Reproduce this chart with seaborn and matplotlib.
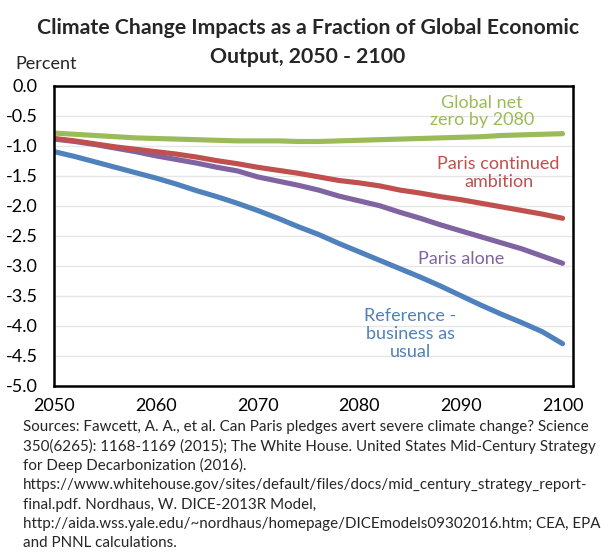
import numpy as np
import pandas as pd
import seaborn as sns
import matplotlib.pyplot as plt

# Data (percent of global output)
years = [2050, 2052, 2054, 2056, 2058, 2060, 2062, 2064, 2066, 2068, 2070, 2072, 2074,
         2076, 2078, 2080, 2082, 2084, 2086, 2088, 2090, 2092, 2094, 2096, 2098, 2100]
reference = [-1.10, -1.18, -1.27, -1.36, -1.45, -1.54, -1.64, -1.75, -1.85, -1.96, -2.08, -2.21, -2.35,
             -2.48, -2.63, -2.77, -2.91, -3.05, -3.19, -3.34, -3.50, -3.66, -3.81, -3.95, -4.10, -4.30]
paris_alone = [-0.89, -0.93, -0.98, -1.04, -1.10, -1.17, -1.23, -1.29, -1.36, -1.42, -1.52, -1.59, -1.66,
               -1.74, -1.84, -1.92, -2.00, -2.11, -2.21, -2.32, -2.42, -2.52, -2.62, -2.72, -2.84, -2.96]
paris_continued = [-0.88, -0.92, -0.97, -1.02, -1.06, -1.10, -1.14, -1.19, -1.25, -1.30, -1.36, -1.41, -1.46,
                   -1.52, -1.58, -1.62, -1.67, -1.74, -1.79, -1.85, -1.90, -1.96, -2.02, -2.08, -2.14, -2.21]
net_zero = [-0.79, -0.81, -0.83, -0.85, -0.87, -0.88, -0.89, -0.90, -0.91, -0.92, -0.92, -0.92, -0.93,
            -0.93, -0.92, -0.91, -0.90, -0.89, -0.88, -0.87, -0.86, -0.85, -0.83, -0.82, -0.81, -0.80]

series_names = ["Reference - business as usual", "Paris alone", "Paris continued ambition",
                "Global net zero by 2080"]
colors = ["#4F81BD", "#8064A2", "#C0504D", "#9BBB59"]

df = pd.DataFrame({
    "year": years * 4,
    "value": reference + paris_alone + paris_continued + net_zero,
    "scenario": np.repeat(series_names, len(years)),
})

sns.set_style("white")
plt.rcParams['font.family'] = ['Lato', 'DejaVu Sans']

fig = plt.figure(figsize=(6.01, 5.56), dpi=100)
ax = fig.add_axes([0.0904, 0.3063, 0.8626, 0.5396])

sns.lineplot(data=df, x="year", y="value", hue="scenario", hue_order=series_names,
             palette=colors, linewidth=3.7, legend=False, ax=ax,
             solid_capstyle="round")

ax.set_xlim(2050, 2101)
ax.set_ylim(-5, 0)
ax.set_xticks([2050, 2060, 2070, 2080, 2090, 2100])
ax.set_yticks(np.arange(-5, 0.01, 0.5))
ax.set_yticklabels([f"{v:.1f}" for v in np.arange(-5, 0.01, 0.5)])
ax.yaxis.grid(True, color="#E6E6E6", linewidth=1)
ax.set_axisbelow(True)
ax.set_xlabel("")
ax.set_ylabel("")
for s in ax.spines.values():
    s.set_color("black")
    s.set_linewidth(1.8)
ax.tick_params(axis="both", direction="in", length=5, width=1.5, color="black",
               labelsize=13, labelcolor="black")
ax.tick_params(axis="y", pad=12)
ax.tick_params(axis="x", pad=9)

# series labels
ax.text(2092.1, -0.43, "Global net\nzero by 2080", color=colors[3], fontsize=13,
        ha="center", va="center", linespacing=1.15)
ax.text(2093.7, -1.46, "Paris continued\nambition", color=colors[2], fontsize=13,
        ha="center", va="center", linespacing=1.15)
ax.text(2090.0, -2.89, "Paris alone", color=colors[1], fontsize=13,
        ha="center", va="center")
ax.text(2085.0, -4.14, "Reference -\nbusiness as\nusual", color=colors[0], fontsize=13,
        ha="center", va="center", linespacing=1.15)

# title, two lines
fig.text(308 / 601, 1 - 28 / 556, "Climate Change Impacts as a Fraction of Global Economic",
         ha="center", va="center", fontsize=15.3, fontweight="bold")
fig.text(308 / 601, 1 - 57 / 556, "Output, 2050 - 2100",
         ha="center", va="center", fontsize=15.3, fontweight="bold")
fig.text(15 / 601, 1 - 64 / 556, "Percent", ha="left", va="center", fontsize=13)

notes = [
    "Sources: Fawcett, A. A., et al. Can Paris pledges avert severe climate change? Science",
    "350(6265): 1168-1169 (2015); The White House. United States Mid-Century Strategy",
    "for Deep Decarbonization (2016).",
    "https://www.whitehouse.gov/sites/default/files/docs/mid_century_strategy_report-",
    "final.pdf. Nordhaus, W. DICE-2013R Model,",
    "http://aida.wss.yale.edu/~nordhaus/homepage/DICEmodels09302016.htm; CEA, EPA",
    "and PNNL calculations.",
]
for i, line in enumerate(notes):
    fig.text(23 / 601, 1 - (427 + i * 19.4) / 556, line, ha="left", va="center", fontsize=10.9)

fig.savefig("out.png", dpi=100, facecolor="white")
